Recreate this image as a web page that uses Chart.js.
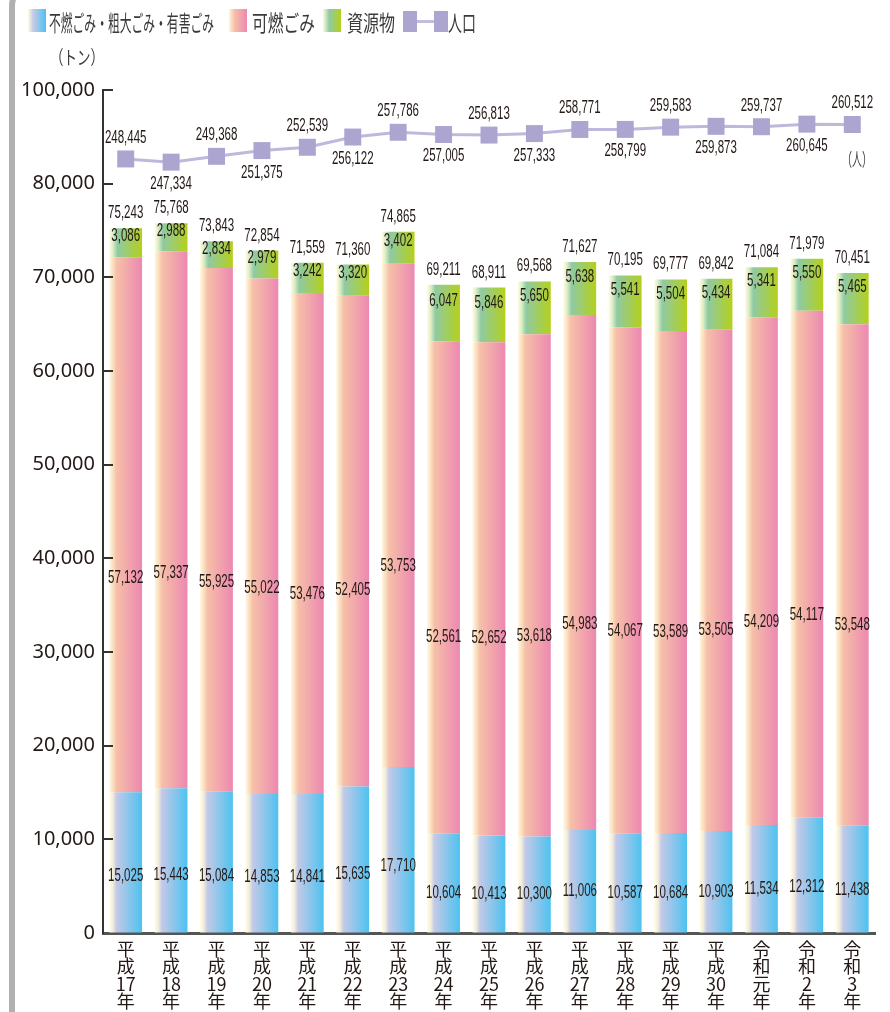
<!DOCTYPE html>
<html lang="ja">
<head>
<meta charset="utf-8">
<title>ごみ排出量と人口の推移</title>
<script src="https://cdn.jsdelivr.net/npm/chart.js@4/dist/chart.umd.min.js"></script>
<style>
html, body { margin: 0; padding: 0; background: #fff; }
#wrap { position: relative; width: 890px; height: 1012px; overflow: hidden; font-family: "Noto Sans CJK JP", "Noto Sans", sans-serif; color: #333; }
#frame { position: absolute; left: 9px; top: -20px; width: 80px; height: 1100px; border-left: 6px solid #b0b0b0; border-top: 6px solid #b0b0b0; border-top-left-radius: 26px; }
#chart { position: absolute; left: 0; top: 0; }
.sw { position: absolute; top: 9px; width: 18px; height: 23px; }
.txt { position: absolute; white-space: nowrap; line-height: 1; transform-origin: 0 0; font-weight: 400; color: #3a3a3a; }
.lg { top: 10px; font-size: 22px; }
</style>
</head>
<body>
<div id="wrap">
  <div id="frame"></div>
  <canvas id="chart" width="890" height="1012"></canvas>

  <span class="sw" style="left:28px;background:linear-gradient(to right,#fffbe2,#c4c9e7 30%,#4dc2f0);"></span>
  <span class="txt lg" style="left:49px;" data-w="165">不燃ごみ・粗大ごみ・有害ごみ</span>
  <span class="sw" style="left:229px;background:linear-gradient(to right,#fff6de,#f6c0a8 30%,#ec88b1);"></span>
  <span class="txt lg" style="left:252px;" data-w="63">可燃ごみ</span>
  <span class="sw" style="left:323px;background:linear-gradient(to right,#fffadc,#8fcaa3 35%,#b4d01a);"></span>
  <span class="txt lg" style="left:347px;" data-w="48">資源物</span>
  <span class="sw" style="left:403px;width:14px;height:21px;top:11px;background:#aca5d0;"></span>
  <span class="sw" style="left:417px;width:17px;height:3px;top:20px;background:#c3bcdf;"></span>
  <span class="sw" style="left:434px;width:14px;height:21px;top:11px;background:#aca5d0;"></span>
  <span class="txt lg" style="left:448px;" data-w="28">人口</span>

  <span class="txt" style="left:50px;top:47px;font-size:19px;" data-w="54">（トン）</span>
  <span class="txt" style="left:842px;top:149px;font-size:18px;" data-w="30">（人）</span>
</div>
<script>
// 年度ラベル（縦書き）
var years = [
  ['平','成','17','年'], ['平','成','18','年'], ['平','成','19','年'], ['平','成','20','年'],
  ['平','成','21','年'], ['平','成','22','年'], ['平','成','23','年'], ['平','成','24','年'],
  ['平','成','25','年'], ['平','成','26','年'], ['平','成','27','年'], ['平','成','28','年'],
  ['平','成','29','年'], ['平','成','30','年'], ['令','和','元','年'], ['令','和','2','年'],
  ['令','和','3','年']
];
// 不燃ごみ・粗大ごみ・有害ごみ (t)
var funen = [15025, 15443, 15084, 14853, 14841, 15635, 17710, 10604, 10413, 10300, 11006, 10587, 10684, 10903, 11534, 12312, 11438];
// 可燃ごみ (t)
var kanen = [57132, 57337, 55925, 55022, 53476, 52405, 53753, 52561, 52652, 53618, 54983, 54067, 53589, 53505, 54209, 54117, 53548];
// 資源物 (t)
var shigen = [3086, 2988, 2834, 2979, 3242, 3320, 3402, 6047, 5846, 5650, 5638, 5541, 5504, 5434, 5341, 5550, 5465];
// 合計 (t)
var totals = [75243, 75768, 73843, 72854, 71559, 71360, 74865, 69211, 68911, 69568, 71627, 70195, 69777, 69842, 71084, 71979, 70451];
// 人口 (人)
var jinko = [248445, 247334, 249368, 251375, 252539, 256122, 257786, 257005, 256813, 257333, 258771, 258799, 259583, 259873, 259737, 260645, 260512];
// y軸目盛（最上段は省略表示で100,000）
var yTicks = [0, 10000, 20000, 30000, 40000, 50000, 60000, 70000, 80000, 90000];

var BAR_PCT = 0.72;

function fmt(v) { return Number(v).toLocaleString('en-US'); }

// horizontal gradient across each bar, computed from the x scale
function barGradient(stops, fallback) {
  return function(c) {
    var chart = c.chart, area = chart.chartArea;
    if (!area || !chart.scales || !chart.scales.x) return fallback;
    var cx = chart.scales.x.getPixelForValue(c.dataIndex);
    var half = (area.right - area.left) / years.length * BAR_PCT / 2;
    var g = chart.ctx.createLinearGradient(cx - half, 0, cx + half, 0);
    stops.forEach(function(s) { g.addColorStop(s[0], s[1]); });
    return g;
  };
}

function drawNum(ctx, txt, x, y) {
  ctx.save();
  ctx.translate(x, y);
  ctx.scale(0.64, 1);
  ctx.fillText(txt, 0, 0);
  ctx.restore();
}

// segment values, totals and population labels
var valueLabels = {
  id: 'valueLabels',
  afterDatasetsDraw: function(chart) {
    var ctx = chart.ctx;
    ctx.save();
    ctx.fillStyle = '#231815';
    ctx.font = '18px "Liberation Sans", Arial, sans-serif';
    ctx.textAlign = 'center';
    ctx.textBaseline = 'middle';
    [0, 1, 2].forEach(function(di) {
      var meta = chart.getDatasetMeta(di);
      var pos = di === 2 ? 0.72 : 0.4;
      meta.data.forEach(function(bar, i) {
        var y = bar.base - (bar.base - bar.y) * pos;
        drawNum(ctx, fmt(chart.data.datasets[di].data[i]), bar.x, y);
        if (di === 2) drawNum(ctx, fmt(totals[i]), bar.x, bar.y - 15);
      });
    });
    chart.getDatasetMeta(3).data.forEach(function(pt, i) {
      drawNum(ctx, fmt(jinko[i]), pt.x, pt.y + (i % 2 === 0 ? -21 : 22));
    });
    ctx.restore();
  }
};

// short tick marks pointing into the plot
var innerTicks = {
  id: 'innerTicks',
  afterDraw: function(chart) {
    var ys = chart.scales.y, ctx = chart.ctx;
    ctx.save();
    ctx.strokeStyle = '#333';
    ctx.lineWidth = 2;
    ys.ticks.forEach(function(t) {
      if (t.value === 0) return;
      var py = Math.round(ys.getPixelForValue(t.value));
      ctx.beginPath();
      ctx.moveTo(ys.right, py);
      ctx.lineTo(ys.right + 10, py);
      ctx.stroke();
    });
    ctx.restore();
  }
};

new Chart(document.getElementById('chart'), {
  type: 'bar',
  data: {
    labels: years,
    datasets: [
      { label: '不燃ごみ・粗大ごみ・有害ごみ', data: funen, order: 1,
        backgroundColor: barGradient([[0, '#fffbe2'], [0.1, '#f3efdc'], [0.22, '#c3c9e7'], [1, '#4dc2f0']], '#8ec6ec') },
      { label: '可燃ごみ', data: kanen, order: 1,
        backgroundColor: barGradient([[0, '#fff6de'], [0.1, '#fbe2c4'], [0.22, '#f6c0a8'], [1, '#ec88b1']], '#f2a6ad') },
      { label: '資源物', data: shigen, order: 1,
        backgroundColor: barGradient([[0, '#fffadc'], [0.1, '#e0efc8'], [0.25, '#8fcaa3'], [1, '#b4d01a']], '#a2cd60') },
      { type: 'line', label: '人口', data: jinko, yAxisID: 'y2', order: 0,
        borderColor: '#bfb8dd', borderWidth: 3, tension: 0,
        pointStyle: 'rect', pointRadius: 12, pointHoverRadius: 12,
        pointBackgroundColor: '#aca5d0', pointBorderWidth: 0 }
    ]
  },
  options: {
    responsive: false,
    animation: false,
    layout: { padding: { top: 90, right: 15, left: 0, bottom: 0 } },
    datasets: { bar: { barPercentage: BAR_PCT, categoryPercentage: 1, borderWidth: 0 } },
    plugins: { legend: { display: false }, tooltip: { enabled: false } },
    scales: {
      x: {
        stacked: true,
        grid: { display: true, drawOnChartArea: false, drawTicks: false },
        border: { display: true, color: '#555', width: 3 },
        ticks: { color: '#231815', autoSkip: false, maxRotation: 0, padding: 8,
                 font: { family: '"Noto Sans CJK JP", sans-serif', size: 18, lineHeight: 0.95 } },
        afterFit: function(s) { s.height = 79; }
      },
      y: {
        stacked: true, min: 0, max: 90000,
        afterBuildTicks: function(s) { s.ticks = yTicks.map(function(v) { return { value: v }; }); },
        grid: { display: true, drawOnChartArea: false, drawTicks: false },
        border: { display: true, color: '#333', width: 2 },
        ticks: { color: '#231815', padding: 8,
                 font: { family: '"Noto Sans", sans-serif', size: 20 },
                 callback: function(v) { return v === 90000 ? '100,000' : fmt(v); } },
        afterFit: function(s) { s.width = 103; }
      },
      y2: { display: false, min: -22700, max: 272600 }
    }
  },
  plugins: [valueLabels, innerTicks]
});

// squeeze the condensed-looking html text to the measured widths
document.querySelectorAll('[data-w]').forEach(function(el) {
  var w = el.getBoundingClientRect().width;
  el.style.transform = 'scaleX(' + (el.dataset.w / w) + ')';
});
</script>
</body>
</html>
